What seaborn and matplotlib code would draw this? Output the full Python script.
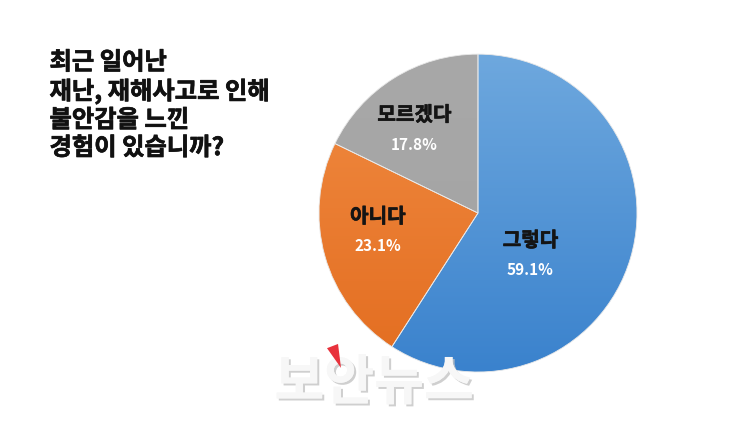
import matplotlib
matplotlib.use("Agg")
import matplotlib.pyplot as plt
import matplotlib.patheffects as pe
from matplotlib.colors import LinearSegmentedColormap
from matplotlib.patches import Polygon
import numpy as np
import seaborn as sns

# data
answers = ["그렇다", "아니다", "모르겠다"]
shares = [59.1, 23.1, 17.8]
# top / bottom shade of each wedge
top_colors = ["#6ea8de", "#f18c43", "#a8a8a8"]
bottom_colors = ["#3a82cd", "#e36d20", "#a3a3a3"]
# label spots inside the pie (x, y in pie radius units)
label_spots = [(0.33, -0.26), (-0.63, -0.11), (-0.40, 0.53)]
question = "최근 일어난\n재난, 재해사고로 인해\n불안감을 느낀\n경험이 있습니까?"

sns.set_style("white")
plt.rcParams["font.family"] = ["Noto Sans CJK KR", "DejaVu Sans"]

fig = plt.figure(figsize=(7.5, 4.21), dpi=100)
fig.patch.set_facecolor("white")
ax = fig.add_axes([0.4253, 0.1164, 0.424, 0.755])

wedges, _ = ax.pie(shares, startangle=90, counterclock=False, radius=1,
                   colors=top_colors, frame=False,
                   wedgeprops=dict(linewidth=0.6, edgecolor="#e8e8e8"))
ax.set_xlim(-1, 1)
ax.set_ylim(-1, 1)
ax.set_aspect("equal")

# vertical gradient fill clipped to each wedge
grad = np.linspace(0, 1, 256).reshape(-1, 1)
for w, c_top, c_bot in zip(wedges, top_colors, bottom_colors):
    cmap = LinearSegmentedColormap.from_list("g", [c_top, c_bot])
    im = ax.imshow(grad, cmap=cmap, extent=(-1, 1, -1, 1), origin="upper",
                   aspect="auto", zorder=w.get_zorder() + 0.1)
    im.set_clip_path(w)
    w.set_facecolor("none")
    w.set_zorder(w.get_zorder() + 0.2)

# thicken the bold glyphs a little, the source uses a black weight
heavy = [pe.withStroke(linewidth=0.45, foreground="#141414")]
for name, val, (lx, ly) in zip(answers, shares, label_spots):
    ax.text(lx, ly + 0.09, name, ha="center", va="center", fontsize=14.5,
            fontweight="bold", color="#141414", zorder=5, path_effects=heavy)
    ax.text(lx, ly - 0.10, f"{val:.1f}%", ha="center", va="center",
            fontsize=11, fontweight="bold", color="white", zorder=5)

fig.text(0.066, 0.88, question, ha="left", va="top", fontsize=17.5,
         fontweight="bold", color="#111111", linespacing=1.2,
         path_effects=[pe.withStroke(linewidth=0.5, foreground="#111111")])

# watermark
fig.text(0.499, 0.088, "보안뉴스", ha="center", va="center", fontsize=39,
         fontweight="bold", color="#f7f7f7", zorder=10,
         path_effects=[pe.withSimplePatchShadow(offset=(1.5, -1.5),
                                               shadow_rgbFace="#c4c4c4",
                                               alpha=0.8),
                       pe.Normal()])
fig.patches.append(Polygon([[0.436, 0.173], [0.4507, 0.183], [0.4547, 0.126]],
                           closed=True, transform=fig.transFigure,
                           facecolor="#e8323c", edgecolor="none", zorder=11))

fig.savefig("out.png", dpi=100, facecolor="white")
